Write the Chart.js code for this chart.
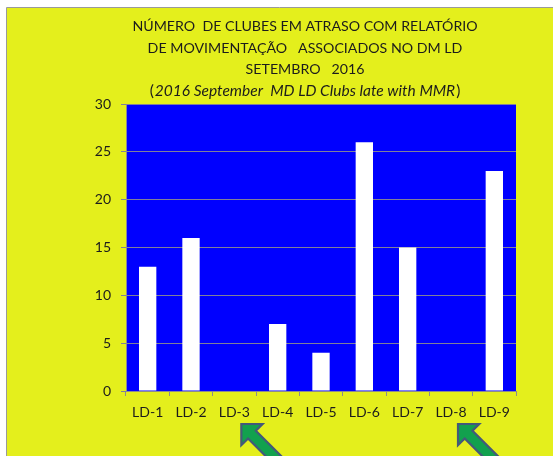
<!DOCTYPE html>
<html>
<head>
<meta charset="utf-8">
<script src="https://cdn.jsdelivr.net/npm/chart.js@4/dist/chart.umd.min.js"></script>
<style>
  html, body { margin: 0; padding: 0; background: #fff; }
  #wrap { width: 553px; height: 456px; }
</style>
</head>
<body>
<div id="wrap"><canvas id="chart" width="553" height="456"></canvas></div>
<script>
// data
const categories = ['LD-1', 'LD-2', 'LD-3', 'LD-4', 'LD-5', 'LD-6', 'LD-7', 'LD-8', 'LD-9'];
const lateClubs = [13, 16, 0, 7, 4, 26, 15, 0, 23];
const markedDistricts = ['LD-3', 'LD-8']; // the ones with the green arrows
const yMax = 30;
const yStep = 5;

const titleLines = [
  'NÚMERO  DE CLUBES EM ATRASO COM RELATÓRIO',
  'DE MOVIMENTAÇÃO   ASSOCIADOS NO DM LD',
  'SETEMBRO   2016'
];
const subtitleText = '2016 September  MD LD Clubs late with MMR';

const FONT = 'Lato, "Liberation Sans", sans-serif';
const TEXT_COLOR = '#1c1c1c';
const YELLOW = '#e4ef1c';
const GRID = '#80809a';

// yellow sheet with the grey edge, blue plot area
const backdrop = {
  id: 'backdrop',
  beforeDraw(chart) {
    const { ctx, chartArea } = chart;
    ctx.save();
    ctx.fillStyle = '#ffffff';
    ctx.fillRect(0, 0, chart.width, chart.height);
    ctx.fillStyle = YELLOW;
    ctx.fillRect(7, 8, chart.width - 7, chart.height - 8);
    ctx.strokeStyle = '#9a9a9a';
    ctx.lineWidth = 1;
    ctx.beginPath();
    ctx.moveTo(6.5, chart.height);
    ctx.lineTo(6.5, 7.5);
    ctx.lineTo(chart.width, 7.5);
    ctx.stroke();
    ctx.fillStyle = '#0000ff';
    ctx.fillRect(chartArea.left, chartArea.top, chartArea.right - chartArea.left, chartArea.bottom - chartArea.top);
    ctx.restore();
  }
};

// title block: 3 upper-case lines + the english line in italics
const titleBlock = {
  id: 'titleBlock',
  afterDraw(chart) {
    const ctx = chart.ctx;
    const cx = 305;
    const baselines = [31, 52.5, 74];
    ctx.save();
    ctx.fillStyle = TEXT_COLOR;
    ctx.textBaseline = 'alphabetic';
    ctx.textAlign = 'center';
    ctx.font = '14.2px ' + FONT;
    titleLines.forEach((t, i) => ctx.fillText(t, cx, baselines[i]));

    // "(" + italic text + ")"
    const normal = '15.5px ' + FONT;
    const italic = 'italic 15.5px ' + FONT;
    ctx.textAlign = 'left';
    ctx.font = normal;
    const wp = ctx.measureText('(').width;
    const wc = ctx.measureText(')').width;
    ctx.font = italic;
    const wi = ctx.measureText(subtitleText).width;
    let x = cx - (wp + wi + wc + 2) / 2;
    const y = 95.5;
    ctx.font = normal;
    ctx.fillText('(', x, y);
    x += wp + 1;
    ctx.font = italic;
    ctx.fillText(subtitleText, x, y);
    x += wi + 1;
    ctx.font = normal;
    ctx.fillText(')', x, y);
    ctx.restore();
  }
};

// green arrows pointing at the districts without late clubs
const arrows = {
  id: 'arrows',
  afterDraw(chart) {
    const ctx = chart.ctx;
    const xs = chart.scales.x;
    const h = 15, hw = 15, sw = 5.5, len = 52;
    const r = Math.SQRT1_2;
    const u = [r, r], v = [r, -r];
    markedDistricts.forEach(name => {
      const tx = xs.getPixelForValue(categories.indexOf(name)) + 7;
      const ty = 424;
      const p = (a, b) => [tx + a * u[0] + b * v[0], ty + a * u[1] + b * v[1]];
      const pts = [p(0, 0), p(h, hw), p(h, sw), p(len, sw), p(len, -sw), p(h, -sw), p(h, -hw)];
      ctx.save();
      ctx.beginPath();
      pts.forEach((pt, i) => i ? ctx.lineTo(pt[0], pt[1]) : ctx.moveTo(pt[0], pt[1]));
      ctx.closePath();
      ctx.fillStyle = '#12a14e';
      ctx.fill();
      ctx.lineWidth = 2.2;
      ctx.lineJoin = 'miter';
      ctx.strokeStyle = '#44597a';
      ctx.stroke();
      ctx.restore();
    });
  }
};

new Chart(document.getElementById('chart'), {
  type: 'bar',
  data: {
    labels: categories,
    datasets: [{
      label: 'Clubes em atraso',
      data: lateClubs,
      backgroundColor: '#ffffff',
      borderWidth: 0,
      barPercentage: 0.4,
      categoryPercentage: 1.0
    }]
  },
  options: {
    responsive: false,
    animation: false,
    devicePixelRatio: 1,
    layout: { padding: { top: 104, right: 37, left: 0, bottom: 0 } },
    plugins: {
      legend: { display: false },
      title: { display: false },
      tooltip: { enabled: false }
    },
    scales: {
      x: {
        afterFit(scale) { scale.height = 65; },
        grid: {
          offset: true,
          drawOnChartArea: false,
          drawTicks: true,
          tickLength: 5,
          color: '#8c8c8c'
        },
        border: { color: '#8c8c8c' },
        ticks: {
          color: TEXT_COLOR,
          padding: 8,
          maxRotation: 0,
          font: { family: FONT, size: 14 }
        }
      },
      y: {
        min: 0,
        max: yMax,
        afterFit(scale) { scale.width = 126; },
        grid: {
          color: GRID,
          tickLength: 5,
          drawTicks: true
        },
        border: { color: '#8c8c8c' },
        ticks: {
          stepSize: yStep,
          color: TEXT_COLOR,
          padding: 10,
          font: { family: FONT, size: 14 }
        }
      }
    }
  },
  plugins: [backdrop, titleBlock, arrows]
});
</script>
</body>
</html>
